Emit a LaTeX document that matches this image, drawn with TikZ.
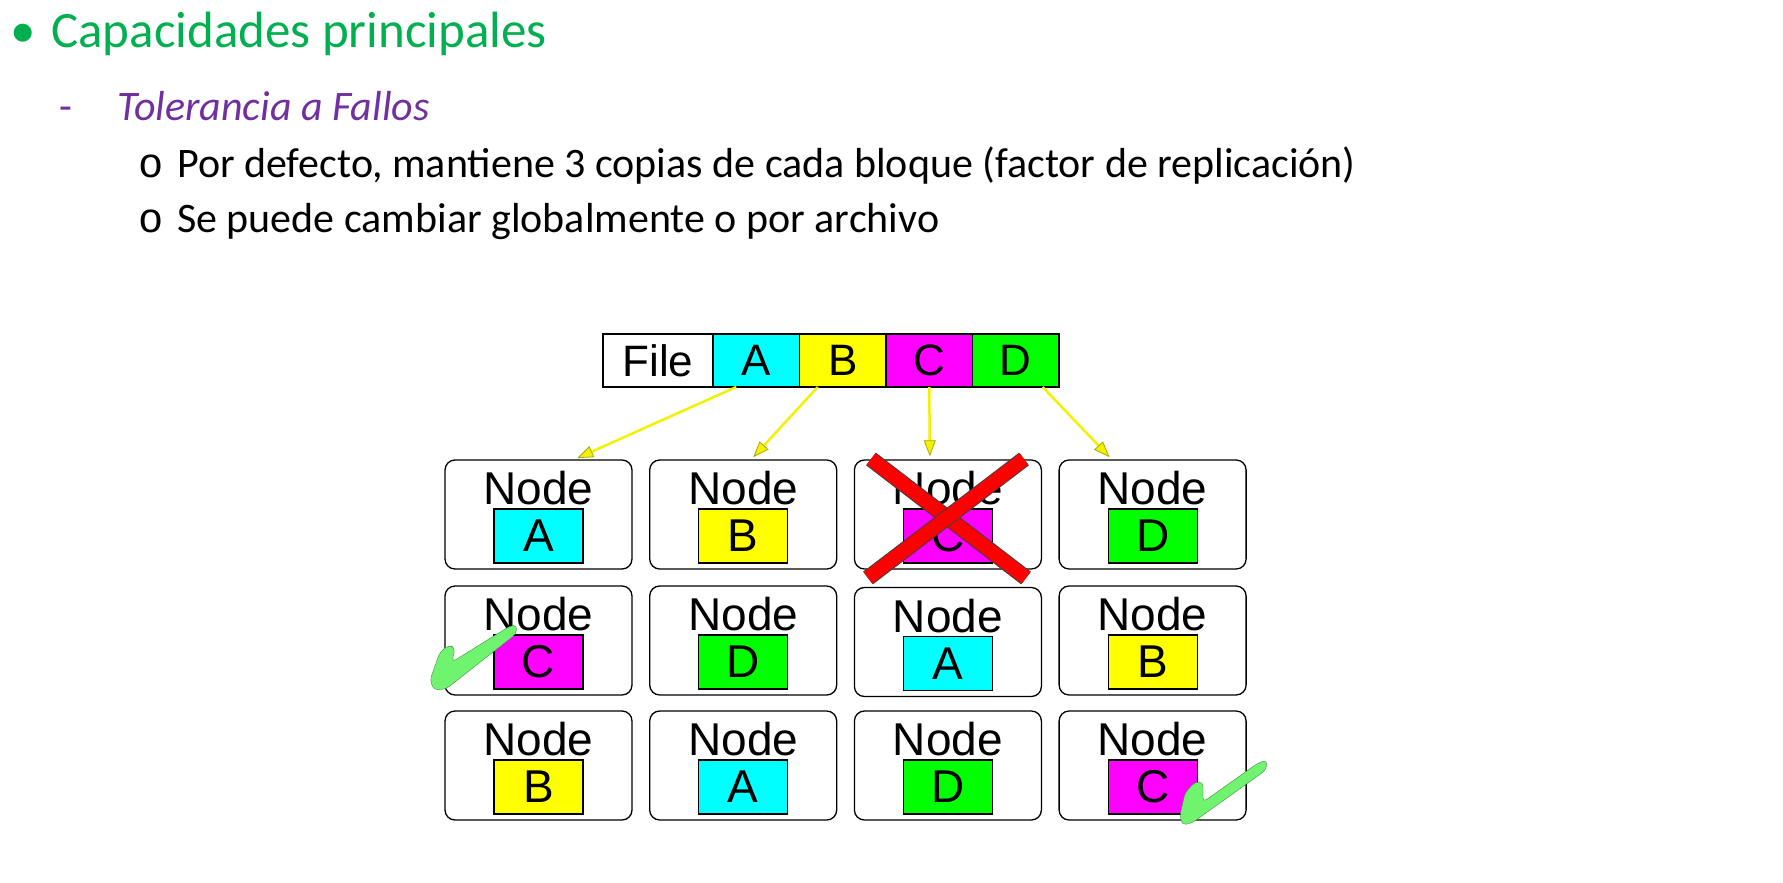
\documentclass[tikz,border=0pt]{standalone}
\usepackage{fontspec}
\setmainfont{Carlito}
\newfontfamily\arialfont{Liberation Sans}
\newfontfamily\courfont{Liberation Mono}
\usetikzlibrary{arrows.meta,positioning}
\definecolor{titlegreen}{HTML}{00B050}
\definecolor{subpurple}{HTML}{7030A0}
\definecolor{blkcyan}{HTML}{00FFFF}
\definecolor{blkyellow}{HTML}{FFFF00}
\definecolor{blkmagenta}{HTML}{FF00FF}
\definecolor{blkgreen}{HTML}{00FF00}
\definecolor{feedyellow}{HTML}{F2F200}
\definecolor{arrowedge}{HTML}{A8A800}
\definecolor{tickgreen}{HTML}{70F470}

\begin{document}
\begin{tikzpicture}[x=1pt, y=-1pt,
    titletxt/.style={anchor=base west, inner sep=0pt, text=titlegreen, font=\fontsize{51}{60}\selectfont},
    subtxt/.style={anchor=base west, inner sep=0pt, text=subpurple, font=\fontsize{42}{50}\selectfont},
    itemtxt/.style={anchor=base west, inner sep=0pt, font=\fontsize{42}{50}\selectfont},
    itemmark/.style={anchor=base west, inner sep=0pt, font=\courfont\fontsize{42}{50}\selectfont},
    cell/.style={draw, line width=1.3pt, minimum width=86.5pt, minimum height=53pt, inner sep=0pt,
                 outer sep=0pt, font=\arialfont\fontsize{44}{44}\selectfont},
    host/.style={draw, rounded corners=10pt, minimum width=187pt, minimum height=109pt,
                 line width=1.3pt, inner sep=0pt},
    hosttxt/.style={inner sep=0pt, font=\arialfont\fontsize{46}{46}\selectfont},
    blk/.style={draw, line width=1.2pt, minimum width=89pt, minimum height=54pt, inner sep=0pt,
                font=\arialfont\fontsize{46}{46}\selectfont},
    feed/.style={draw=feedyellow, line width=2.5pt, shorten >=3pt,
                 -{Triangle[length=16pt, width=12pt, fill=feedyellow, color=arrowedge, line width=0.8pt]}},
    xbar/.style={draw=black!75, line width=1pt, double=red, double distance=14pt},
    tick/.style={fill=tickgreen, draw=tickgreen!60!black, line width=0.4pt, rounded corners=4pt}
]
\fill[white] (0,0) rectangle (1783,883);
\useasboundingbox (0,0) rectangle (1783,883);

% --- slide text ---
\node[titletxt] (dot) at (10,48) {•};
\node[titletxt] (title) at (51,48) {Capacidades principales};
\node[subtxt] (dash) at (59,120) {-};
\node[subtxt] (sub) at (117,120) {\itshape Tolerancia a Fallos};
\node[itemmark] (o1) at (138,177) {o};
\node[itemtxt] (item1) at (177,177) {Por defecto, mantiene 3 copias de cada bloque (factor de replicación)};
\node[itemmark] (o2) at (138,232) {o};
\node[itemtxt] (item2) at (177,232) {Se puede cambiar globalmente o por archivo};

% --- file bar ---
\node[cell, minimum width=110pt] (cFile) at (658,360.5) {File};
\node[cell, fill=blkcyan, right=0pt of cFile] (cA) {A};
\node[cell, fill=blkyellow, right=0pt of cA] (cB) {B};
\node[cell, fill=blkmagenta, right=0pt of cB] (cC) {C};
\node[cell, fill=blkgreen, right=0pt of cC] (cD) {D};

% --- data nodes, row 1 ---
\node[host] (n11) at (538.5,514.5) {};
\node[hosttxt, below=12pt of n11.north] (t11) {Node};
\node[blk, fill=blkcyan, above=6pt of n11.south] (b11) {A};

\node[host] (n12) at (743.2,514.5) {};
\node[hosttxt, below=12pt of n12.north] (t12) {Node};
\node[blk, fill=blkyellow, above=6pt of n12.south] (b12) {B};

\node[host] (n13) at (947.9,514.5) {};
\node[hosttxt, below=12pt of n13.north] (t13) {Node};
\node[blk, fill=blkmagenta, above=6pt of n13.south] (b13) {C};

\node[host] (n14) at (1152.6,514.5) {};
\node[hosttxt, below=12pt of n14.north] (t14) {Node};
\node[blk, fill=blkgreen, above=6pt of n14.south] (b14) {D};

% --- data nodes, row 2 ---
\node[host] (n21) at (538.5,640.5) {};
\node[hosttxt, below=12pt of n21.north] (t21) {Node};
\node[blk, fill=blkmagenta, above=6pt of n21.south] (b21) {C};

\node[host] (n22) at (743.2,640.5) {};
\node[hosttxt, below=12pt of n22.north] (t22) {Node};
\node[blk, fill=blkgreen, above=6pt of n22.south] (b22) {D};

\node[host] (n23) at (947.9,642) {};
\node[hosttxt, below=12pt of n23.north] (t23) {Node};
\node[blk, fill=blkcyan, above=6pt of n23.south] (b23) {A};

\node[host] (n24) at (1152.6,640.5) {};
\node[hosttxt, below=12pt of n24.north] (t24) {Node};
\node[blk, fill=blkyellow, above=6pt of n24.south] (b24) {B};

% --- data nodes, row 3 ---
\node[host] (n31) at (538.5,765.5) {};
\node[hosttxt, below=12pt of n31.north] (t31) {Node};
\node[blk, fill=blkyellow, above=6pt of n31.south] (b31) {B};

\node[host] (n32) at (743.2,765.5) {};
\node[hosttxt, below=12pt of n32.north] (t32) {Node};
\node[blk, fill=blkcyan, above=6pt of n32.south] (b32) {A};

\node[host] (n33) at (947.9,765.5) {};
\node[hosttxt, below=12pt of n33.north] (t33) {Node};
\node[blk, fill=blkgreen, above=6pt of n33.south] (b33) {D};

\node[host] (n34) at (1152.6,765.5) {};
\node[hosttxt, below=12pt of n34.north] (t34) {Node};
\node[blk, fill=blkmagenta, above=6pt of n34.south] (b34) {C};

% --- block placement arrows ---
\draw[feed] ([xshift=-20pt]cA.south) -- ([xshift=36pt]n11.north);
\draw[feed] ([xshift=-25pt]cB.south) -- ([xshift=8pt]n12.north);
\draw[feed] (cC.south) -- ([xshift=-18pt]n13.north);
\draw[feed] ([xshift=27pt]cD.south) -- ([xshift=-41pt]n14.north);

% --- failed node ---
\draw[xbar] (871,459) -- (1026,578);
\draw[xbar] (1024,459) -- (868,578);

% --- surviving copies ---
\path[tick] (455,648) -- (452,662) -- (510,626) -- (517,625) -- (516,634)
    -- (446,689) -- (434,690) -- (430,680) -- (440,652) -- (449,645) -- cycle;
\path[tick] (1203,782) -- (1203,802) -- (1258,763) -- (1267,760) -- (1266,770)
    -- (1192,823) -- (1182,825) -- (1180,815) -- (1185,793) -- (1195,782) -- cycle;

\end{tikzpicture}
\end{document}
